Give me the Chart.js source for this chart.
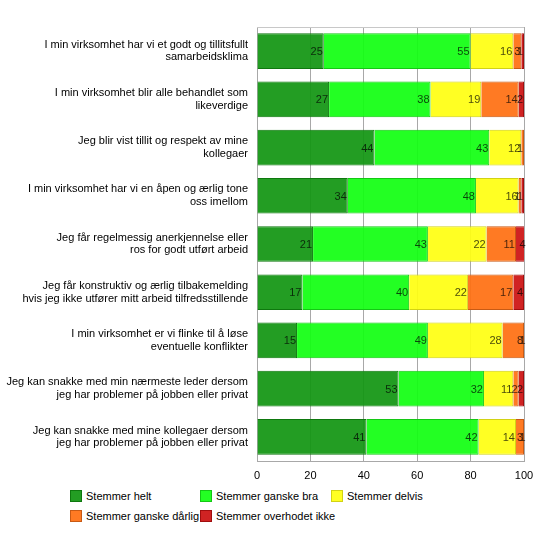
<!DOCTYPE html>
<html>
<head>
<meta charset="utf-8">
<title>Arbeidsmiljø</title>
<script src="https://cdn.jsdelivr.net/npm/chart.js@4"></script>
<style>
  body { margin: 0; background: #fff; font-family: "Liberation Sans", Arial, sans-serif; }
  #wrap { position: absolute; left: 0; top: 0; width: 550px; height: 490px; }
  #legend { position: absolute; left: 70px; top: 490px; width: 420px; font-size: 11px; color: #000; }
  .item { position: absolute; height: 14px; line-height: 12px; white-space: nowrap; }
  .box { display: inline-block; width: 10px; height: 10px; border: 1px solid; vertical-align: top; margin-right: 4px; }
</style>
</head>
<body>
<div id="wrap"><canvas id="chart"></canvas></div>
<div id="legend"></div>
<script>
// spørsmål (to linjer hver)
var kategorier = [
  ["I min virksomhet har vi et godt og tillitsfullt", "samarbeidsklima"],
  ["I min virksomhet blir alle behandlet som", "likeverdige"],
  ["Jeg blir vist tillit og respekt av mine", "kollegaer"],
  ["I min virksomhet har vi en åpen og ærlig tone", "oss imellom"],
  ["Jeg får regelmessig anerkjennelse eller", "ros for godt utført arbeid"],
  ["Jeg får konstruktiv og ærlig tilbakemelding", "hvis jeg ikke utfører mitt arbeid tilfredsstillende"],
  ["I min virksomhet er vi flinke til å løse", "eventuelle konflikter"],
  ["Jeg kan snakke med min nærmeste leder dersom", "jeg har problemer på jobben eller privat"],
  ["Jeg kan snakke med mine kollegaer dersom", "jeg har problemer på jobben eller privat"]
];

var serier = ["Stemmer helt", "Stemmer ganske bra", "Stemmer delvis", "Stemmer ganske dårlig", "Stemmer overhodet ikke"];

var helt      = [25, 27, 44, 34, 21, 17, 15, 53, 41];
var ganskeBra = [55, 38, 43, 48, 43, 40, 49, 32, 42];
var delvis    = [16, 19, 12, 16, 22, 22, 28, 11, 14];
var darlig    = [3, 14, 1, 1, 11, 17, 8, 2, 3];
var ikke      = [1, 2, 0, 1, 4, 4, 1, 2, 1];

var xTicks = [0, 20, 40, 60, 80, 100];

var farger  = ['rgba(18,150,18,0.93)', 'rgba(18,255,18,0.93)', 'rgba(255,255,18,0.93)', 'rgba(255,112,18,0.93)', 'rgba(204,18,18,0.93)'];
var kanter  = ['rgb(14,120,14)', 'rgb(20,200,20)', 'rgb(210,210,20)', 'rgb(200,90,20)', 'rgb(160,14,14)'];
var verdier = [helt, ganskeBra, delvis, darlig, ikke];

var datasets = [];
for (var i = 0; i < serier.length; i++) {
  datasets.push({
    label: serier[i],
    data: verdier[i],
    backgroundColor: farger[i],
    borderColor: kanter[i],
    borderWidth: 1,
    barPercentage: 0.74,
    categoryPercentage: 1
  });
}

// tall inne i segmentene, høyrejustert
var tallPlugin = {
  id: 'tall',
  afterDatasetsDraw: function (chart) {
    var ctx = chart.ctx;
    ctx.save();
    ctx.font = '11px "Liberation Sans", Arial, sans-serif';
    ctx.fillStyle = 'rgba(0,0,0,0.72)';
    ctx.textAlign = 'right';
    ctx.textBaseline = 'middle';
    chart.data.datasets.forEach(function (ds, i) {
      var meta = chart.getDatasetMeta(i);
      meta.data.forEach(function (bar, j) {
        var v = ds.data[j];
        if (!v) return;
        ctx.fillText(v, bar.x - 1, bar.y + 1);
      });
    });
    ctx.restore();
  }
};

// tynn grå linje øverst i plottet
var toppLinje = {
  id: 'toppLinje',
  beforeDatasetsDraw: function (chart) {
    var a = chart.chartArea, ctx = chart.ctx;
    ctx.save();
    ctx.strokeStyle = '#c8c8c8';
    ctx.lineWidth = 1;
    ctx.beginPath();
    ctx.moveTo(a.left, a.top + 0.5);
    ctx.lineTo(a.right, a.top + 0.5);
    ctx.stroke();
    ctx.restore();
  }
};

var ctxC = document.getElementById('chart').getContext('2d');
var diagram = new Chart(ctxC, {
  type: 'bar',
  data: { labels: kategorier, datasets: datasets },
  options: {
    indexAxis: 'y',
    responsive: true,
    maintainAspectRatio: false,
    animation: false,
    layout: { padding: { top: 27, right: 26, left: 0, bottom: 0 } },
    plugins: { legend: { display: false }, tooltip: { enabled: false } },
    scales: {
      x: {
        stacked: true,
        min: 0,
        max: 100,
        afterBuildTicks: function (scale) {
          scale.ticks = xTicks.map(function (v) { return { value: v }; });
        },
        afterFit: function (scale) { scale.height = 29; },
        grid: { color: '#a8a8a8', drawTicks: false },
        border: { color: '#a8a8a8' },
        ticks: { color: '#000', padding: 8, font: { family: '"Liberation Sans", Arial, sans-serif', size: 11 } }
      },
      y: {
        stacked: true,
        afterFit: function (scale) { scale.width = 257; },
        grid: { display: false, drawTicks: false },
        border: { color: '#a8a8a8' },
        ticks: { color: '#000', padding: 9, font: { family: '"Liberation Sans", Arial, sans-serif', size: 11, lineHeight: 1.15 } }
      }
    }
  },
  plugins: [tallPlugin, toppLinje]
});

// HTML-forklaring i tre kolonner
var kolonner = [0, 130, 261];
var legend = document.getElementById('legend');
diagram.data.datasets.forEach(function (ds, i) {
  var el = document.createElement('div');
  el.className = 'item';
  el.style.left = kolonner[i % 3] + 'px';
  el.style.top = (Math.floor(i / 3) * 20) + 'px';
  el.innerHTML = '<span class="box" style="background:' + farger[i] + ';border-color:' + kanter[i] + '"></span>' + ds.label;
  legend.appendChild(el);
});
</script>
</body>
</html>
